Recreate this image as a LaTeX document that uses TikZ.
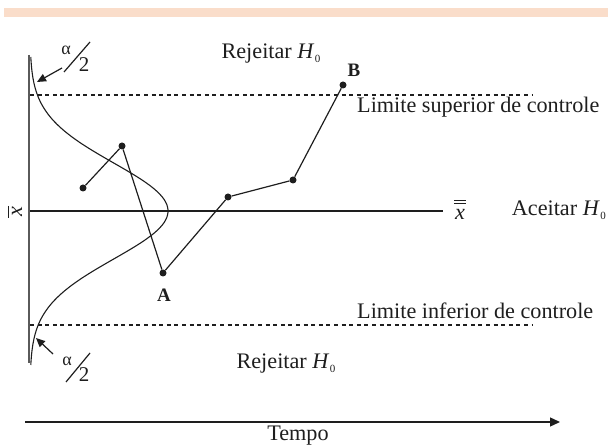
\documentclass[tikz,border=0pt]{standalone}
\usepackage{fontspec}
\setmainfont{Liberation Serif}
\usetikzlibrary{arrows.meta}
\definecolor{band}{RGB}{250,221,202}
\definecolor{ink}{RGB}{30,30,30}
\definecolor{axisgray}{RGB}{90,90,90}
\tikzset{
  lbl/.style={inner sep=0pt, text=ink, font=\fontsize{22.2}{24}\selectfont},
  ptlbl/.style={inner sep=0pt, text=ink, font=\fontsize{19}{20}\selectfont\bfseries},
  dot/.style={circle, fill=ink, inner sep=0pt, minimum size=7pt},
  seg/.style={draw=ink, line width=1.2pt},
  limit/.style={draw=ink, line width=1.1pt, dash pattern=on 4pt off 3.6pt},
  tailarrow/.style={draw=ink, line width=1.2pt, -{Triangle[length=9pt,width=8pt]}},
  barline/.style={draw=ink, line width=0.9pt},
}
\newcommand{\Hzero}{\textit{H}\kern0.5pt\raisebox{-3.5pt}{\fontsize{11}{11}\selectfont 0}}
\begin{document}
\begin{tikzpicture}[x=1pt,y=-1pt]
\useasboundingbox (0,0) rectangle (608,446);
% top band
\fill[band] (4,8) rectangle (608,17);
% vertical axis
\coordinate (ax0) at (29,55);
\coordinate (ax1) at (29,363);
\draw[axisgray, line width=1.8pt] (ax0) -- (ax1);
% limit lines
\coordinate (ul0) at (30,95);
\coordinate (ul1) at (533,95);
\coordinate (ll0) at (30,325);
\coordinate (ll1) at (533,325);
\draw[limit] (ul0) -- (ul1);
\draw[limit] (ll0) -- (ll1);
% center line
\coordinate (cl0) at (30,211);
\coordinate (cl1) at (443,211);
\draw[ink, line width=1.4pt] (cl0) -- (cl1);
% normal curve
\draw[ink, line width=1.1pt] plot[domain=57:365, samples=120, variable=\t, smooth]
  ({30+138*exp(-0.5*((\t-211)/48)^2)}, \t);
% data points
\node[dot] (p1) at (83,188) {};
\node[dot] (p2) at (122,146) {};
\node[dot] (pA) at (163,273) {};
\node[dot] (p4) at (228,197) {};
\node[dot] (p5) at (293,180) {};
\node[dot] (pB) at (343,85) {};
\draw[seg] (p1) -- (p2) -- (pA) -- (p4) -- (p5) -- (pB);
\node[ptlbl] (lA) at (164,295) {A};
\node[ptlbl] (lB) at (354,70) {B};
% labels
\node[lbl] (rej1) at (271,54) {Rejeitar \Hzero};
\node[lbl] (rej2) at (286,364) {Rejeitar \Hzero};
\node[lbl, anchor=west] (lsup) at (357,107) {Limite superior de controle};
\node[lbl, anchor=west] (linf) at (357,311) {Limite inferior de controle};
\node[lbl, anchor=east] (acc) at (606,210) {Aceitar \Hzero};
% double-bar x
\node[lbl] (xbb) at (460,214) {\textit{x}};
\coordinate (bb1a) at (454,200);
\coordinate (bb1b) at (466,200);
\coordinate (bb2a) at (454,203.5);
\coordinate (bb2b) at (466,203.5);
\draw[barline] (bb1a) -- (bb1b);
\draw[barline] (bb2a) -- (bb2b);
% rotated x bar
\node[lbl, rotate=90] (xb) at (17,212) {\textit{x}};
\coordinate (vb0) at (8.5,206);
\coordinate (vb1) at (8.5,218);
\draw[barline] (vb0) -- (vb1);
% alpha/2 top
\node[lbl, font=\fontsize{18}{18}\selectfont] (al1) at (66,50) {α};
\node[lbl, font=\fontsize{21}{22}\selectfont] (tw1) at (84,65) {2};
\coordinate (s1a) at (64,72);
\coordinate (s1b) at (90,42);
\draw[ink, line width=1.2pt] (s1a) -- (s1b);
\coordinate (ar1a) at (62,68);
\coordinate (ar1b) at (37,82);
\draw[tailarrow] (ar1a) -- (ar1b);
% alpha/2 bottom
\node[lbl, font=\fontsize{18}{18}\selectfont] (al2) at (67,361) {α};
\node[lbl, font=\fontsize{21}{22}\selectfont] (tw2) at (84,375) {2};
\coordinate (s2a) at (66,382);
\coordinate (s2b) at (90,353);
\draw[ink, line width=1.2pt] (s2a) -- (s2b);
\coordinate (ar2a) at (53,354);
\coordinate (ar2b) at (36,338);
\draw[tailarrow] (ar2a) -- (ar2b);
% time axis
\coordinate (t0) at (25,422);
\coordinate (t1) at (560,422);
\draw[ink, line width=1.3pt, -{Triangle[length=10pt,width=9pt]}] (t0) -- (t1);
\node[lbl] (tempo) at (298,436) {Tempo};
\end{tikzpicture}
\end{document}
